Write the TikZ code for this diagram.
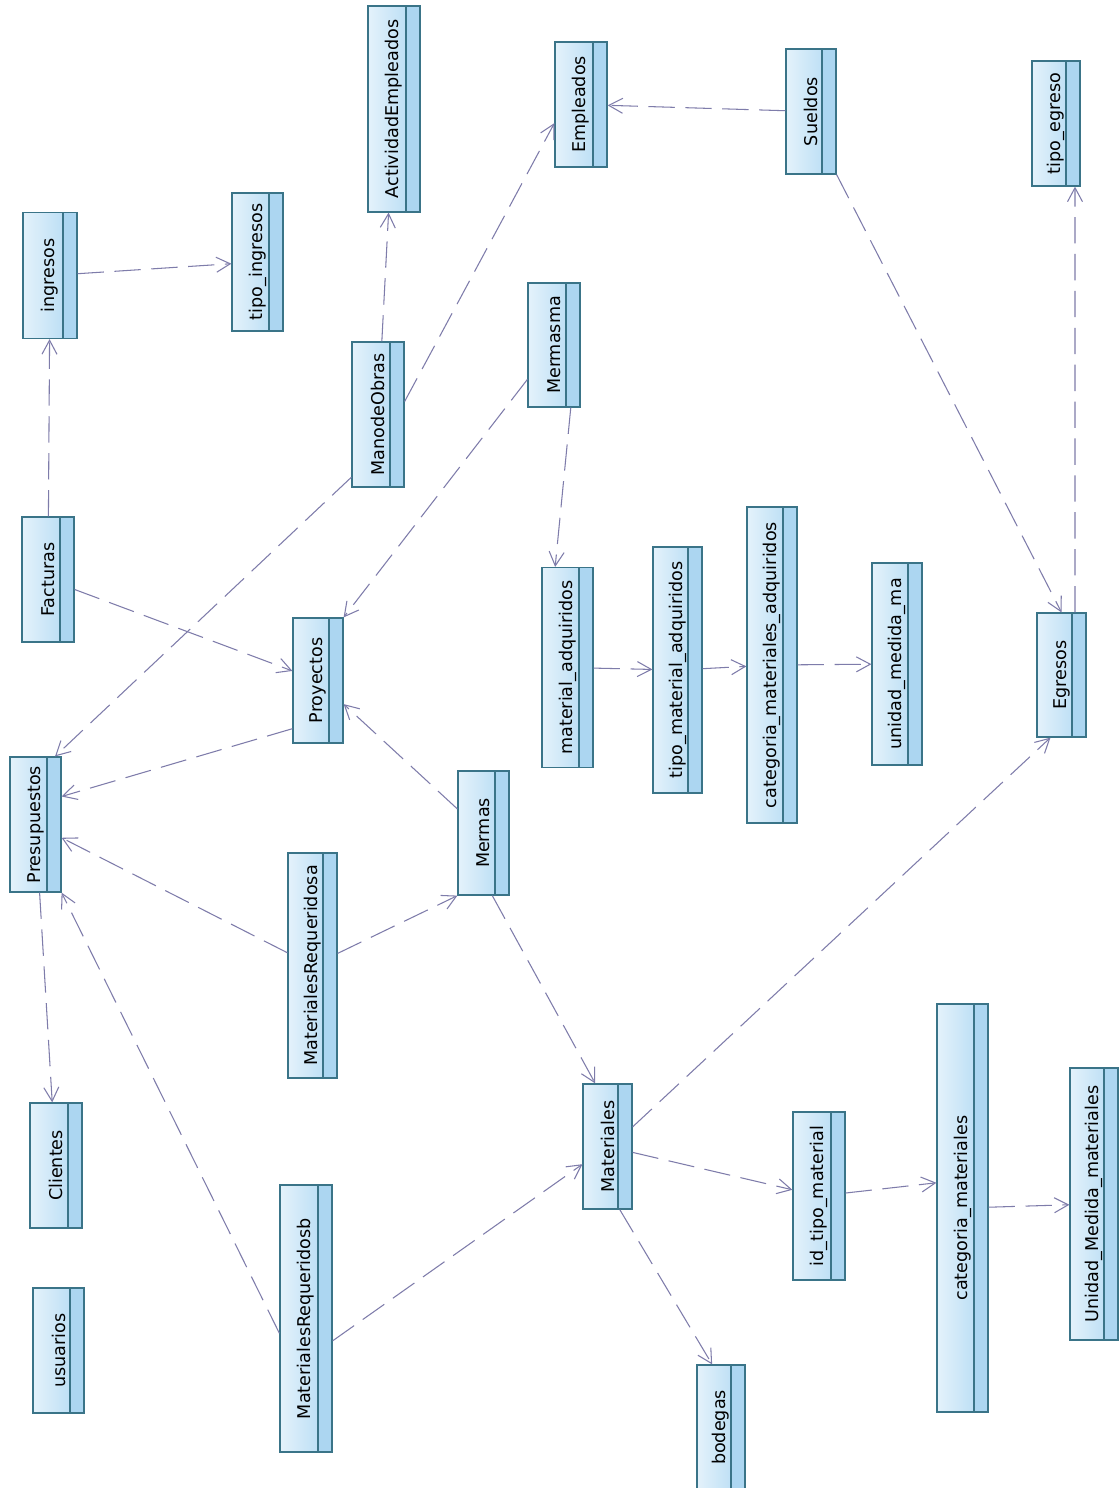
\documentclass[tikz,border=0pt]{standalone}
\usepackage{fontspec}
\setmainfont{DejaVu Sans}
\usepackage{graphicx}
\usetikzlibrary{arrows.meta}

\definecolor{clsedge}{RGB}{58,116,136}
\definecolor{clslight}{RGB}{228,242,251}
\definecolor{clsblue}{RGB}{176,217,243}
\definecolor{clsstrip}{RGB}{172,214,241}
\definecolor{deplink}{RGB}{126,124,170}

\newcommand{\clsname}[1]{\rotatebox{90}{#1}\hspace{0.28cm}}

\begin{document}
\begin{tikzpicture}[
  x=0.02cm, y=-0.02cm,
  cls/.style={draw=clsedge, line width=0.7pt, inner sep=0pt,
    left color=clslight, right color=clsblue,
    font=\fontsize{10}{12}\selectfont,
    path picture={
      \fill[clsstrip] ([xshift=-0.28cm]path picture bounding box.north east)
        rectangle (path picture bounding box.south east);
      \draw[clsedge, line width=0.7pt]
        ([xshift=-0.28cm]path picture bounding box.north east)
        -- ([xshift=-0.28cm]path picture bounding box.south east);
    }},
  sz/.style 2 args={minimum width=#1*0.02cm, minimum height=#2*0.02cm},
  dep/.style={draw=deplink, line width=0.6pt, dash pattern=on 15pt off 6pt,
    -{Straight Barb[length=2.8mm,width=3mm]}},
]

% page area, pixel units of the screenshot
\fill[white] (0,0) rectangle (1119,1488);
\useasboundingbox (0,0) rectangle (1119,1488);

% ===== top row ================================================================
\node[cls, sz={54}{126}] (ingresos)   at (50,275.5)  {\clsname{ingresos}};
\node[cls, sz={51}{138}] (tipoing)    at (257.5,262) {\clsname{tipo\_ingresos}};
\node[cls, sz={52}{206}] (actividad)  at (394,109)   {\clsname{ActividadEmpleados}};
\node[cls, sz={52}{125}] (empleados)  at (581,104.5) {\clsname{Empleados}};
\node[cls, sz={50}{125}] (sueldos)    at (811,111.5) {\clsname{Sueldos}};
\node[cls, sz={48}{125}] (tipoegreso) at (1056,123.5) {\clsname{tipo\_egreso}};

% ===== middle band ============================================================
\node[cls, sz={52}{145}] (manodeobras) at (378,414.5) {\clsname{ManodeObras}};
\node[cls, sz={52}{124}] (mermasma)    at (554,345)   {\clsname{Mermasma}};
\node[cls, sz={52}{125}] (facturas)    at (48,579.5)  {\clsname{Facturas}};
\node[cls, sz={50}{125}] (proyectos)   at (318,680.5) {\clsname{Proyectos}};
\node[cls, sz={51}{200}] (matadq)      at (567.5,667.5) {\clsname{material\_adquiridos}};
\node[cls, sz={49}{246}] (tipomatadq)  at (677.5,670) {\clsname{tipo\_material\_adquiridos}};
\node[cls, sz={50}{316}] (catmatadq)   at (772,665)   {\clsname{categoria\_materiales\_adquiridos}};
\node[cls, sz={50}{202}] (unidadma)    at (897,664)   {\clsname{unidad\_medida\_ma}};
\node[cls, sz={49}{124}] (egresos)     at (1061.5,675) {\clsname{Egresos}};

% ===== lower band =============================================================
\node[cls, sz={51}{135}] (presup)     at (35.5,824.5)  {\clsname{Presupuestos}};
\node[cls, sz={49}{225}] (matreqa)    at (312.5,965.5) {\clsname{MaterialesRequeridosa}};
\node[cls, sz={51}{124}] (mermas)     at (483.5,833)   {\clsname{Mermas}};
\node[cls, sz={52}{125}] (clientes)   at (56,1165.5)   {\clsname{Clientes}};
\node[cls, sz={51}{125}] (usuarios)   at (58.5,1350.5) {\clsname{usuarios}};
\node[cls, sz={52}{267}] (matreqb)    at (306,1318.5)  {\clsname{MaterialesRequeridosb}};
\node[cls, sz={49}{125}] (materiales) at (607.5,1146.5) {\clsname{Materiales}};
\node[cls, sz={52}{168}] (idtipo)     at (819,1196)    {\clsname{id\_tipo\_material}};
\node[cls, sz={51}{408}] (catmat)     at (962.5,1208)  {\clsname{categoria\_materiales}};
\node[cls, sz={48}{272}] (unidadmat)  at (1094,1204)   {\clsname{Unidad\_Medida\_materiales}};
\node[cls, sz={48}{125}] (bodegas)    at (721,1427.5)  {\clsname{bodegas}};

% ===== dependencies ===========================================================
\draw[dep] (ingresos) -- (tipoing);
\draw[dep] (facturas) -- (ingresos);
\draw[dep] (facturas) -- (proyectos);
\draw[dep] (manodeobras) -- (actividad);
\draw[dep] (manodeobras.26) -- (empleados.215);
\draw[dep] (manodeobras.247) -- (presup.74);
\draw[dep] (sueldos) -- (empleados);
\draw[dep] (sueldos.south east) -- (egresos.north);
\draw[dep] ([xshift=0.27cm]egresos.north) -- ([xshift=0.38cm]tipoegreso.south);
\draw[dep] (mermasma) -- (proyectos.north east);
\draw[dep] (mermasma.285) -- (matadq.97);
\draw[dep] (matadq) -- (tipomatadq);
\draw[dep] (tipomatadq) -- (catmatadq);
\draw[dep] (catmatadq) -- (unidadma);
\draw[dep] (proyectos.242) -- (presup.47);
\draw[dep] (matreqa) -- (presup);
\draw[dep] (matreqa) -- (mermas.south west);
\draw[dep] (mermas) -- (proyectos);
\draw[dep] (mermas.278) -- (materiales.101);
\draw[dep] (presup) -- (clientes);
\draw[dep] (matreqb.209) -- (presup.south east);
\draw[dep] (matreqb.320) -- (materiales);
\draw[dep] (materiales.38) -- (egresos.260);
\draw[dep] (materiales) -- (idtipo);
\draw[dep] (materiales.281) -- (bodegas.98);
\draw[dep] (idtipo) -- (catmat.136);
\draw[dep] (catmat) -- (unidadmat);

\end{tikzpicture}
\end{document}
